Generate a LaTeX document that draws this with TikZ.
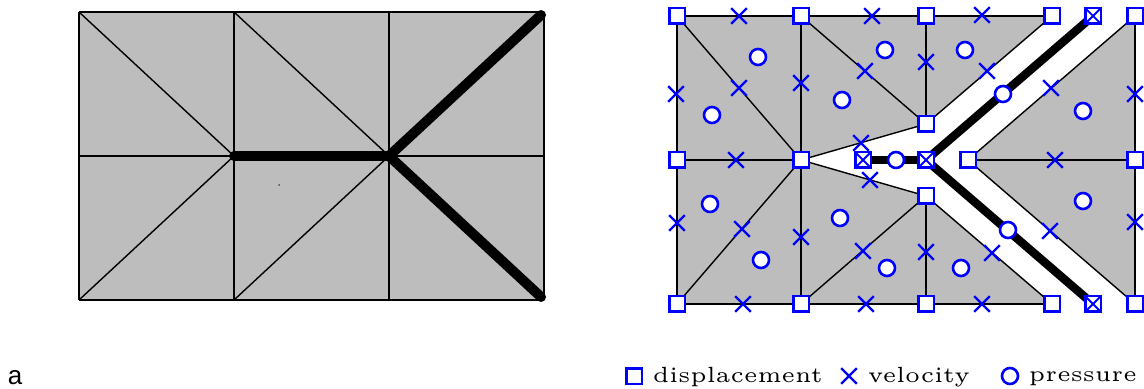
\documentclass[tikz,border=0pt]{standalone}
\usepackage{fontspec}
\newfontfamily\labelfont{Liberation Sans}
\usetikzlibrary{shapes.misc}
\definecolor{meshgray}{gray}{0.74}
\tikzset{
  edge/.style={line width=0.7pt},
  crack/.style={line width=4.2pt},
  thickcrack/.style={line width=5pt,line cap=round},
  dispnode/.style={draw=blue,fill=white,line width=1.3pt,rectangle,minimum size=7.8pt,inner sep=0pt},
  velnode/.style={draw=blue,line width=1.2pt,cross out,minimum size=6.6pt,inner sep=0pt},
  presnode/.style={draw=blue,fill=white,line width=1.3pt,circle,minimum size=8pt,inner sep=0pt},
  legendtext/.style={scale=2.2,font=\fontsize{5}{6}\selectfont,anchor=base west,inner sep=0pt}
}
\begin{document}
\begin{tikzpicture}[x=0.5pt,y=-0.5pt]
  \useasboundingbox (0,0) rectangle (1144,389);
  % left mesh
  \foreach \i/\x in {1/79,2/234,3/389,4/544} {
    \coordinate (t\i) at (\x,12);
    \coordinate (m\i) at (\x,156);
    \coordinate (b\i) at (\x,300);
  }
  \fill[meshgray] (t1) rectangle (b4);
  \foreach \a/\b in {t1/t4,m1/m4,b1/b4,t1/b1,t2/b2,t3/b3,t4/b4,t1/m2,t2/m3,b1/m2,b2/m3} {
    \draw[edge] (\a)--(\b);
  }
  \draw[thickcrack] (m2)--(m3);
  \coordinate (tipa) at (541,15);
  \coordinate (tipb) at (541,297);
  \draw[thickcrack] (m3)--(tipa);
  \draw[thickcrack] (m3)--(tipb);
  \fill[black!70] (279,185) circle (0.5pt);
  \node[font=\labelfont\fontsize{13}{15}\selectfont,inner sep=0pt] (panel) at (15,378) {a};
  % right mesh, cut along the crack
  \foreach \n/\x/\y in {1/677/16,2/801/16,3/926/16,4/1052/16,5/1135/16,
      6/677/160,7/801/160,8/926/124,9/968/160,10/1135/160,11/926/196,
      12/677/304,13/801/304,14/926/304,15/1052/304,16/1135/304,
      17/1093/16,18/863/160,19/926/160,20/1093/304} {
    \coordinate (c\n) at (\x,\y);
  }
  \fill[meshgray] (c1)--(c4)--(c8)--(c7)--(c11)--(c15)--(c12)--cycle;
  \fill[meshgray] (c5)--(c9)--(c16)--cycle;
  \foreach \a/\b in {1/4,1/12,12/15,2/13,3/8,11/14,6/7,9/10,5/16,
      1/7,2/8,12/7,13/11,7/8,7/11,8/4,11/15,9/5,9/16} {
    \draw[edge] (c\a)--(c\b);
  }
  \draw[crack] (c18)--(c19);
  \draw[crack] (c19)--(c17);
  \draw[crack] (c19)--(c20);
  % displacement
  \foreach \n in {1,...,20} {\node[dispnode] (d\n) at (c\n) {};}
  \foreach \n in {17,18,19,20} {\node[velnode,line width=0.9pt] (w\n) at (c\n) {};}
  % velocity
  \foreach \x/\y [count=\n] in {739/16,872/16,982/15,676/94,739/88,801/83,865/71,926/62,
      987/71,1051/88,1135/94,736/160,861/143,1055/160,870/180,677/223,742/229,801/237,
      863/251,926/252,992/253,1050/231,1135/222,743/304,866/304,982/304} {
    \node[velnode] (v\n) at (\x,\y) {};
  }
  % pressure
  \foreach \x/\y [count=\n] in {758/57,885/50,965/50,712/115,842/100,1003/94,1083/111,896/160,
      710/204,761/260,840/218,887/268,961/268,1008/230,1083/201} {
    \node[presnode] (p\n) at (\x,\y) {};
  }
  % legend
  \node[dispnode] (legd) at (634,376) {};
  \node[legendtext] (legdt) at (652,382) {displacement};
  \node[velnode] (legv) at (849,376) {};
  \node[legendtext] (legvt) at (867,382) {velocity};
  \node[presnode] (legp) at (1010,376) {};
  \node[legendtext] (legpt) at (1028,381) {pressure};
\end{tikzpicture}
\end{document}
